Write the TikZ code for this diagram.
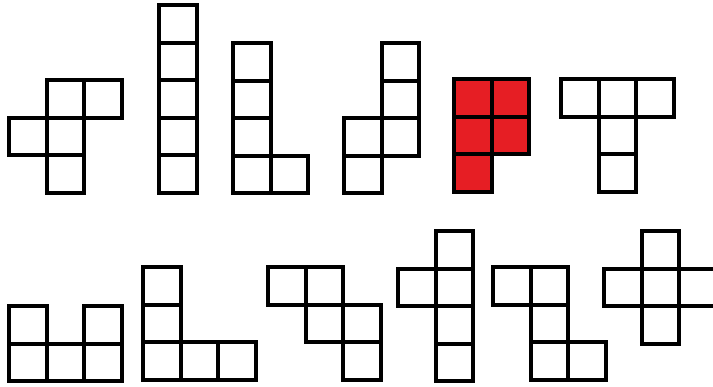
\documentclass[tikz,border=0pt]{standalone}
\definecolor{pieceRed}{RGB}{230,30,36}
\tikzset{
  cell/.style={draw=black, line width=4pt, line join=miter},
  redcell/.style={cell, fill=pieceRed}
}
\newcommand\polyo[4]{%
  \foreach \c/\r in {#4}
    \draw[#1] ({#2+\c*37.6},{#3+\r*37.6}) rectangle ++(37.6,37.6);%
}
\begin{document}
\begin{tikzpicture}[x=1pt,y=-1pt]
\useasboundingbox (0,0) rectangle (713,387);
\clip (0,0) rectangle (713,387);
% top row
\polyo{cell}{9}{80}{1/0,2/0,0/1,1/1,1/2}
\polyo{cell}{159}{5}{0/0,0/1,0/2,0/3,0/4}
\polyo{cell}{233}{43}{0/0,0/1,0/2,0/3,1/3}
\polyo{cell}{344}{43}{1/0,1/1,0/2,1/2,0/3}
\polyo{redcell}{454}{79}{0/0,1/0,0/1,1/1,0/2}
\polyo{cell}{561}{79}{0/0,1/0,2/0,1/1,1/2}
% bottom row
\polyo{cell}{9}{306}{0/0,2/0,0/1,1/1,2/1}
\polyo{cell}{143}{267}{0/0,0/1,0/2,1/2,2/2}
\polyo{cell}{268}{267}{0/0,1/0,1/1,2/1,2/2}
\polyo{cell}{398}{231}{1/0,0/1,1/1,1/2,1/3}
\polyo{cell}{493}{267}{0/0,1/0,1/1,1/2,2/2}
\polyo{cell}{604}{231}{1/0,0/1,1/1,2/1,1/2}
\end{tikzpicture}
\end{document}
